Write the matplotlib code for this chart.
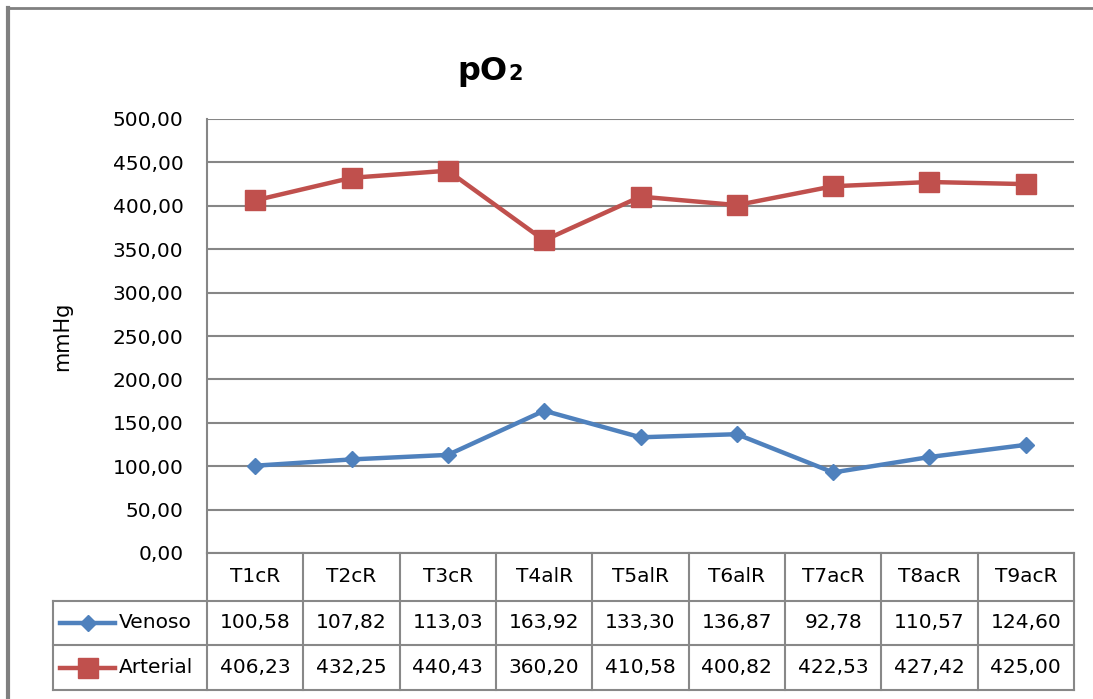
import matplotlib.pyplot as plt
from matplotlib.lines import Line2D
from matplotlib.transforms import blended_transform_factory
import numpy as np

# data
categories = ['T1cR', 'T2cR', 'T3cR', 'T4alR', 'T5alR', 'T6alR', 'T7acR', 'T8acR', 'T9acR']
venoso = [100.58, 107.82, 113.03, 163.92, 133.30, 136.87, 92.78, 110.57, 124.60]
arterial = [406.23, 432.25, 440.43, 360.20, 410.58, 400.82, 422.53, 427.42, 425.00]
yticks = [0, 50, 100, 150, 200, 250, 300, 350, 400, 450, 500]

W, H = 1093, 699
blue = '#4F81BD'
red = '#C0504D'
grid = '#868686'
plt.rcParams['font.family'] = 'DejaVu Sans'

fig = plt.figure(figsize=(W / 100, H / 100), dpi=100)
fig.patch.set_facecolor('white')


def fx(px):
    return px / W


def fy(py):
    return 1 - py / H


ax_l, ax_r, ax_t, ax_b = 207, 1074, 119, 553
ax = fig.add_axes([fx(ax_l), fy(ax_b), fx(ax_r - ax_l), fy(ax_t) - fy(ax_b)])

x = np.arange(len(categories))
ax.plot(x, venoso, color=blue, lw=3.2, marker='D', ms=8, zorder=3)
ax.plot(x, arterial, color=red, lw=3.2, marker='s', ms=14, zorder=3)

ax.set_xlim(-0.5, len(categories) - 0.5)
ax.set_ylim(0, 500)
ax.set_yticks(yticks)
ax.set_yticklabels([f'{v:.2f}'.replace('.', ',') for v in yticks], fontsize=14.5)
ax.tick_params(axis='y', length=0, pad=17)
ax.set_xticks([])
ax.yaxis.grid(True, color=grid, lw=1.5)
ax.set_axisbelow(True)
for s in ['top', 'right']:
    ax.spines[s].set_visible(False)
ax.spines['left'].set_color(grid)
ax.spines['bottom'].set_color(grid)
ax.spines['left'].set_linewidth(1.5)
ax.spines['bottom'].set_linewidth(1.5)

# title (pO with small subscript 2) and axis label
fig.text(fx(507), fy(80), 'pO', fontsize=23, fontweight='bold', ha='right', va='baseline')
fig.text(fx(508), fy(80), '2', fontsize=15, fontweight='bold', ha='left', va='baseline')
fig.text(fx(62), fy(336), 'mmHg', fontsize=15, rotation=90, ha='center', va='center')

# data table under the axis
tr = blended_transform_factory(ax.transData, fig.transFigure)
row_y = [553, 601, 645, 690]
lc = '#888888'
lw = 1.5
bounds = np.arange(len(categories) + 1) - 0.5
for b in bounds:
    ax.add_line(Line2D([b, b], [fy(row_y[0]), fy(row_y[-1])], transform=tr,
                       color=lc, lw=lw, clip_on=False))
for yy in row_y[1:]:
    fig.add_artist(Line2D([fx(53), fx(ax_r)], [fy(yy), fy(yy)], color=lc, lw=lw))
fig.add_artist(Line2D([fx(53), fx(53)], [fy(row_y[1]), fy(row_y[-1])], color=lc, lw=lw))

fs = 14.5
for i, c in enumerate(categories):
    ax.text(i, fy((row_y[0] + row_y[1]) / 2), c, transform=tr, ha='center', va='center',
            fontsize=fs, clip_on=False)
    ax.text(i, fy((row_y[1] + row_y[2]) / 2), f'{venoso[i]:.2f}'.replace('.', ','),
            transform=tr, ha='center', va='center', fontsize=fs, clip_on=False)
    ax.text(i, fy((row_y[2] + row_y[3]) / 2), f'{arterial[i]:.2f}'.replace('.', ','),
            transform=tr, ha='center', va='center', fontsize=fs, clip_on=False)

# legend keys inside the table
for (name, col, mk, ms), (y0, y1) in zip([('Venoso', blue, 'D', 8), ('Arterial', red, 's', 14)],
                                          [(row_y[1], row_y[2]), (row_y[2], row_y[3])]):
    yc = fy((y0 + y1) / 2)
    fig.add_artist(Line2D([fx(60), fx(115)], [yc, yc], color=col, lw=3.2))
    fig.add_artist(Line2D([fx(87.5)], [yc], color=col, marker=mk, ms=ms, lw=0))
    fig.text(fx(119), yc, name, ha='left', va='center', fontsize=fs)

# outer chart frame
fig.add_artist(Line2D([fx(8), 1], [fy(8), fy(8)], color='#808080', lw=2))
fig.add_artist(Line2D([fx(8), fx(8)], [fy(8), 0], color='#808080', lw=3))

fig.savefig('out.png', dpi=100)
